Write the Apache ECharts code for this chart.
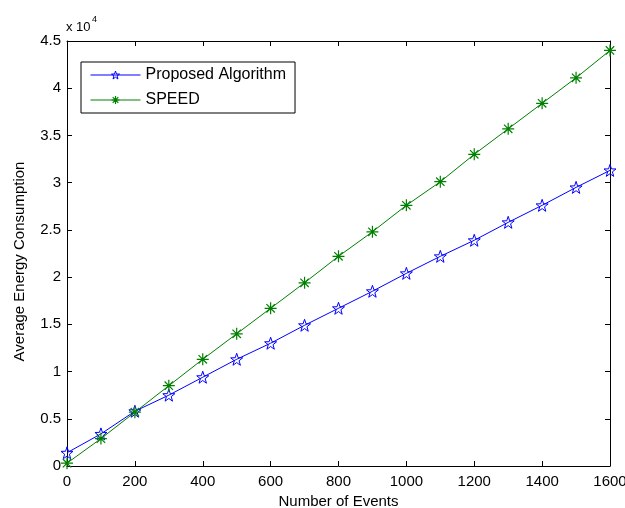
<!DOCTYPE html>
<html>
<head>
<meta charset="utf-8">
<script src="https://cdn.jsdelivr.net/npm/echarts@6/dist/echarts.min.js"></script>
<style>html,body{margin:0;padding:0;background:#fff}#c{width:625px;height:508px}</style>
</head>
<body>
<div id="c"></div>
<script>
var events = [0,100,200,300,400,500,600,700,800,900,1000,1100,1200,1300,1400,1500,1600];
var proposed = [1400,3400,5800,7500,9400,11300,13000,14900,16700,18500,20400,22200,23900,25800,27600,29500,31300];
var speed = [300,2900,5700,8500,11300,14000,16700,19400,22200,24800,27600,30100,33000,35700,38400,41100,44000];
var xTicks = [0,200,400,600,800,1000,1200,1400,1600];
var yTicks = [0,0.5,1,1.5,2,2.5,3,3.5,4,4.5];
var seriesNames = ['Proposed Algorithm','SPEED'];

function starPath(){
  var p = [];
  for (var i=0;i<10;i++){
    var r = (i%2===0)?50:20;
    var a = -Math.PI/2 + i*Math.PI/5;
    p.push((i===0?'M':'L') + (50 + r*Math.cos(a)).toFixed(2) + ' ' + (50 + r*Math.sin(a)).toFixed(2));
  }
  return 'path://' + p.join(' ') + ' Z';
}
var asterisk = 'path://M50 0 L50 100 M0 50 L100 50 M15 15 L85 85 M15 85 L85 15';
var font = 'Arial, "Liberation Sans", Helvetica, sans-serif';
var blue = '#0000ff', green = '#008000';

var chart = echarts.init(document.getElementById('c'), null, {renderer:'canvas'});
var axisCommon = {
  type:'value',
  axisLine:{show:true, onZero:false, lineStyle:{color:'#000', width:1}},
  axisTick:{show:true, inside:true, length:5, lineStyle:{color:'#000'}},
  splitLine:{show:false}
};
function pairs(ys){ return events.map(function(x,i){return [x, ys[i]];}); }

chart.setOption({
  animation:false,
  backgroundColor:'#fff',
  grid:{left:67, right:15, top:41, bottom:42, containLabel:false, outerBoundsMode:'none'},
  xAxis:[
    Object.assign({}, axisCommon, {position:'bottom', min:0, max:1600, interval:200,
      axisLabel:{show:true, margin:8, color:'#000', fontSize:15, fontFamily:font,
        formatter:function(v){return xTicks.indexOf(v)>=0?String(v):'';}},
      name:'Number of Events', nameLocation:'middle', nameGap:28,
      nameTextStyle:{color:'#000', fontSize:15, fontFamily:font}}),
    Object.assign({}, axisCommon, {position:'top', min:0, max:1600, interval:200, axisLabel:{show:false}})
  ],
  yAxis:[
    Object.assign({}, axisCommon, {position:'left', min:0, max:45000, interval:5000,
      axisLabel:{show:true, margin:6, color:'#000', fontSize:15, fontFamily:font,
        formatter:function(v){var t=v/10000; return yTicks.indexOf(t)>=0?String(t):'';}},
      name:'Average Energy Consumption', nameLocation:'middle', nameGap:40,
      nameTextStyle:{color:'#000', fontSize:15, fontFamily:font, padding:[0,16,0,0]}}),
    Object.assign({}, axisCommon, {position:'right', min:0, max:45000, interval:5000, axisLabel:{show:false}})
  ],
  legend:{
    left:81, top:62, orient:'vertical',
    backgroundColor:'#fff', borderColor:'#000', borderWidth:1,
    padding:[5,9,5,9], itemGap:9, itemWidth:50, itemHeight:10,
    textStyle:{color:'#000', fontSize:16, fontFamily:font},
    lineStyle:{width:1},
    data:[
      {name:seriesNames[0], itemStyle:{color:'rgba(0,0,0,0)', borderColor:blue, borderWidth:1}},
      {name:seriesNames[1], itemStyle:{color:'rgba(0,0,0,0)', borderColor:green, borderWidth:1.2}}
    ]
  },
  graphic:[
    {type:'text', left:66, top:21, style:{text:'x 10', fill:'#000', font:'13px ' + font}},
    {type:'text', left:92, top:15, style:{text:'4', fill:'#000', font:'9px ' + font}}
  ],
  series:[
    {name:seriesNames[0], type:'line', data:pairs(proposed), symbol:starPath(), symbolSize:12,
      lineStyle:{color:blue, width:1}, color:blue,
      itemStyle:{color:'rgba(0,0,0,0)', borderColor:blue, borderWidth:1}},
    {name:seriesNames[1], type:'line', data:pairs(speed), symbol:asterisk, symbolSize:12,
      lineStyle:{color:green, width:1}, color:green,
      itemStyle:{color:'rgba(0,0,0,0)', borderColor:green, borderWidth:1.2}}
  ]
});
</script>
</body>
</html>
